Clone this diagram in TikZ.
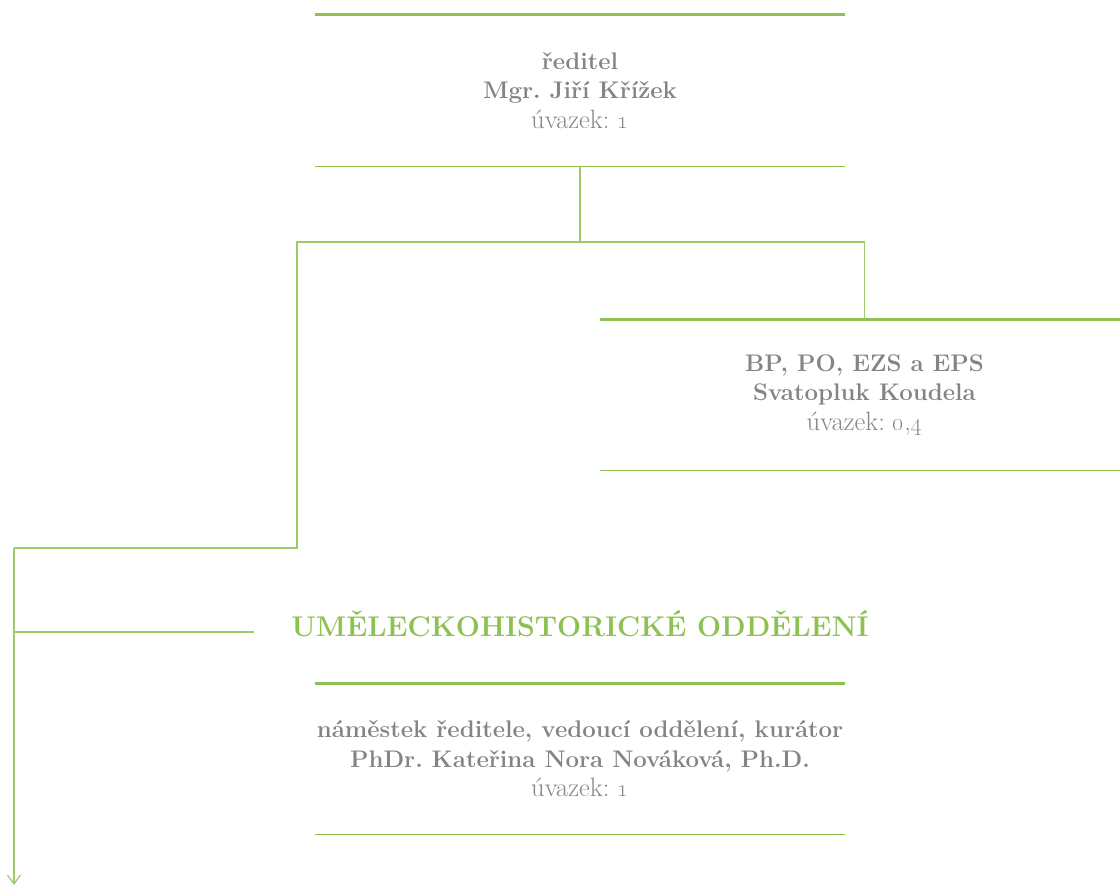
\documentclass[tikz,border=0pt]{standalone}
\usepackage{tikz}
\usetikzlibrary{arrows.meta,positioning,calc}
\definecolor{leaf}{RGB}{141, 193, 82}
\definecolor{textgray}{RGB}{132, 132, 132}
\newcommand{\uvazek}[1]{{\mdseries\fontsize{26.5}{29}\selectfont úvazek: #1}}

\tikzset{
    unit/.style={minimum width=529pt, minimum height=151pt, inner sep=0pt, align=center,
        text=textgray, font=\fontsize{24}{29.5}\selectfont\bfseries\frenchspacing},
    topline/.style={draw=leaf, line width=3pt},
    botline/.style={draw=leaf, line width=1.3pt},
    link/.style={draw=leaf!85, line width=1.2pt},
}

\begin{document}
\begin{tikzpicture}[x=1pt, y=-1pt]
    \useasboundingbox (0,0) rectangle (1120,886);
    % vedeni
    \node[unit] (dir) at (580,90.5) {ředitel\\Mgr. Jiří Křížek\\\uvazek{\oldstylenums{1}}};
    \node[unit] (bp) at (864.5,395) {BP, PO, EZS a EPS\\Svatopluk Koudela\\\uvazek{\oldstylenums{0},\oldstylenums{4}}};
    % oddeleni
    \node[text=leaf, font=\fontsize{28.5}{32}\selectfont\bfseries, inner xsep=37pt, anchor=base] (head) at (580,636) {UMĚLECKOHISTORICKÉ ODDĚLENÍ};
    \node[unit] (dep) at (580,759) {náměstek ředitele, vedoucí oddělení, kurátor\\PhDr. Kateřina Nora Nováková, Ph.D.\\\uvazek{\oldstylenums{1}}};

    \foreach \n in {dir, bp, dep} {
        \draw[topline] (\n.north west) -- (\n.north east);
        \draw[botline] (\n.south west) -- (\n.south east);
    }

    \coordinate (fork) at (580,242);
    \coordinate (elbow) at (297,548);
    \coordinate (trunk) at (14,548);
    \coordinate (branch) at (14,632);
    \coordinate (more) at (14,885);

    \draw[link] (dir.south) -- (fork);
    \draw[link] (bp.north) |- (elbow |- fork) -- (elbow) -- (trunk);
    \draw[link, -{Straight Barb[length=9pt, width=13pt]}] (trunk) -- (more);
    \draw[link] (branch) -- (branch -| head.west);
\end{tikzpicture}
\end{document}
